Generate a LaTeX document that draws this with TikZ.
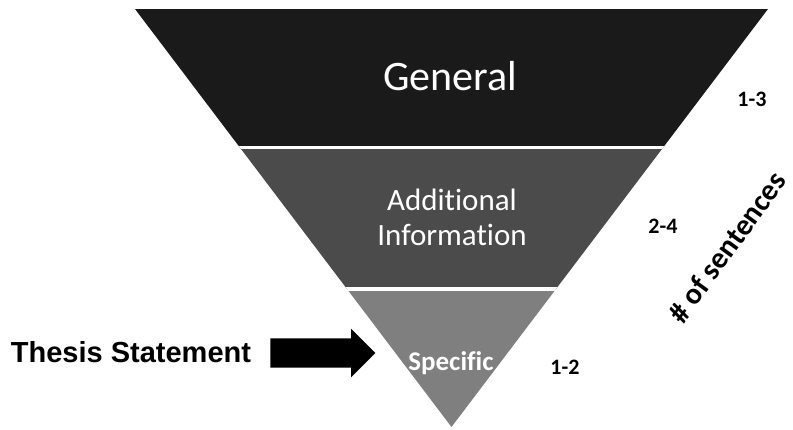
\documentclass[tikz,border=0pt]{standalone}
\usepackage{fontspec}
\setmainfont[Ligatures=NoCommon]{Carlito}
\newfontfamily\arialfont{Liberation Sans}
\usetikzlibrary{shapes.arrows}
\definecolor{bandtop}{HTML}{1A1A1A}
\definecolor{bandmid}{HTML}{4B4B4B}
\definecolor{bandlow}{HTML}{7F7F7F}
\begin{document}
\begin{tikzpicture}[x=1pt,y=-1pt,
  band/.style={text=white,inner sep=0pt},
  count/.style={anchor=base,inner sep=0pt,font=\bfseries\fontsize{22}{26}\selectfont}]
\useasboundingbox (0,0) rectangle (793,429);
\begin{scope}
\clip (135,9) -- (768,9) -- (451.5,427) -- cycle;
\fill[bandtop] (100,0) rectangle (800,147.5);
\fill[bandmid] (100,147.5) rectangle (800,289);
\fill[bandlow] (100,289) rectangle (800,430);
\draw[white,line width=3pt] (100,147.5) -- (800,147.5);
\draw[white,line width=3.5pt] (100,289) -- (800,289);
\end{scope}
\node[band,anchor=base,font=\fontsize{42}{48}\selectfont] (general) at (450,90) {General};
\node[band,align=center,font=\fontsize{31}{35}\selectfont] (additional) at (452,217) {Additional\\Information};
\node[band,anchor=base,font=\bfseries\fontsize{27}{32}\selectfont] (specific) at (451,370) {Specific};
\node[anchor=base,inner sep=0pt,font=\arialfont\bfseries\fontsize{29}{34}\selectfont] (thesis) at (131,362) {Thesis Statement};
\node[single arrow,fill=black,inner xsep=0pt,inner ysep=14.5pt,minimum height=105pt,
  single arrow head extend=9.5pt] (pointer) at (315.5,353) {};
\node[count] (counttop) at (752,106) {1-3};
\node[count] (countmid) at (663,233) {2-4};
\node[count] (countlow) at (565,374) {1-2};
\node[rotate=54,inner sep=0pt,font=\bfseries\fontsize{30}{36}\selectfont] (sentences) at (727,247) {\# of sentences};
\end{tikzpicture}
\end{document}
